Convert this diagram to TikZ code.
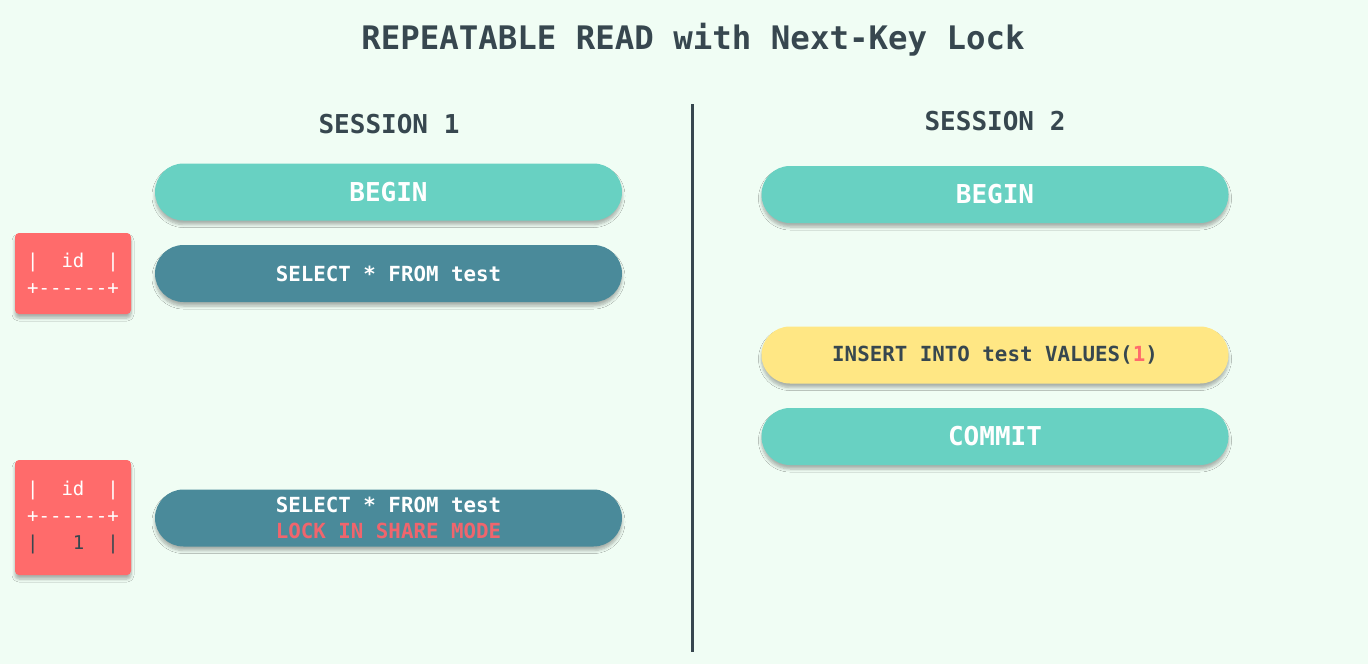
\documentclass[tikz,border=0pt]{standalone}
\usepackage{fontspec}
\setmonofont{DejaVu Sans Mono}
\usetikzlibrary{shadows.blur}
\definecolor{bg}{HTML}{F0FDF4}
\definecolor{ink}{HTML}{37474F}
\definecolor{teal}{HTML}{68D1C2}
\definecolor{deep}{HTML}{4A8A9A}
\definecolor{yel}{HTML}{FFE784}
\definecolor{redb}{HTML}{FF6B6B}
\definecolor{redt}{HTML}{F0656D}
\tikzset{
  x=1pt, y=-1pt,
  shade/.style={blur shadow={shadow xshift=0pt, shadow yshift=-4pt, shadow blur steps=6, shadow opacity=30, shadow blur radius=3pt}},
  pill/.style={shade, rounded corners=28.5pt, minimum width=467pt, minimum height=57pt, inner sep=0pt, text=white, font=\ttfamily\bfseries\fontsize{20.8}{26}\selectfont, align=center},
  bigtxt/.style={font=\ttfamily\bfseries\fontsize{26}{30}\selectfont},
  heading/.style={text=ink, font=\ttfamily\bfseries\fontsize{26}{30}\selectfont},
  tbl/.style={shade, fill=redb, rounded corners=4pt, minimum width=116pt, inner sep=0pt, text=white, align=left, font=\ttfamily\fontsize{19}{27}\selectfont},
}
\begin{document}
\begin{tikzpicture}
\useasboundingbox[fill=bg] (0,0) rectangle (1368,664);
\node[text=ink, font=\ttfamily\bfseries\fontsize{32.4}{36}\selectfont] (title) at (693,40) {REPEATABLE READ with Next-Key Lock};
\node[heading] (s1) at (389,124) {SESSION 1};
\node[heading] (s2) at (995,121) {SESSION 2};
\coordinate (dtop) at (692,104);
\coordinate (dbot) at (692,652);
\draw[ink, line width=3pt] (dtop) -- (dbot);
% session 1
\node[pill, fill=teal, bigtxt] (b1) at (388.5,192) {BEGIN};
\node[pill, fill=deep] (sel1) at (388.5,273.5) {SELECT * FROM test};
\node[pill, fill=deep] (sel2) at (388.5,518) {SELECT * FROM test\\\textcolor{redt}{LOCK IN SHARE MODE}};
\node[tbl, minimum height=81pt] (t1) at (73,273.5) {|~~id~~|\\+------+};
\node[tbl, minimum height=115pt] (t2) at (73,517.5) {|~~id~~|\\+------+\\\textcolor{ink}{|~~~1~~|}};
% session 2
\node[pill, fill=teal, bigtxt] (b2) at (995,194.5) {BEGIN};
\node[pill, fill=yel, text=ink] (ins) at (995,355) {INSERT INTO test VALUES(\textcolor{redb}{1})};
\node[pill, fill=teal, bigtxt] (com) at (995,436.5) {COMMIT};
\end{tikzpicture}
\end{document}
